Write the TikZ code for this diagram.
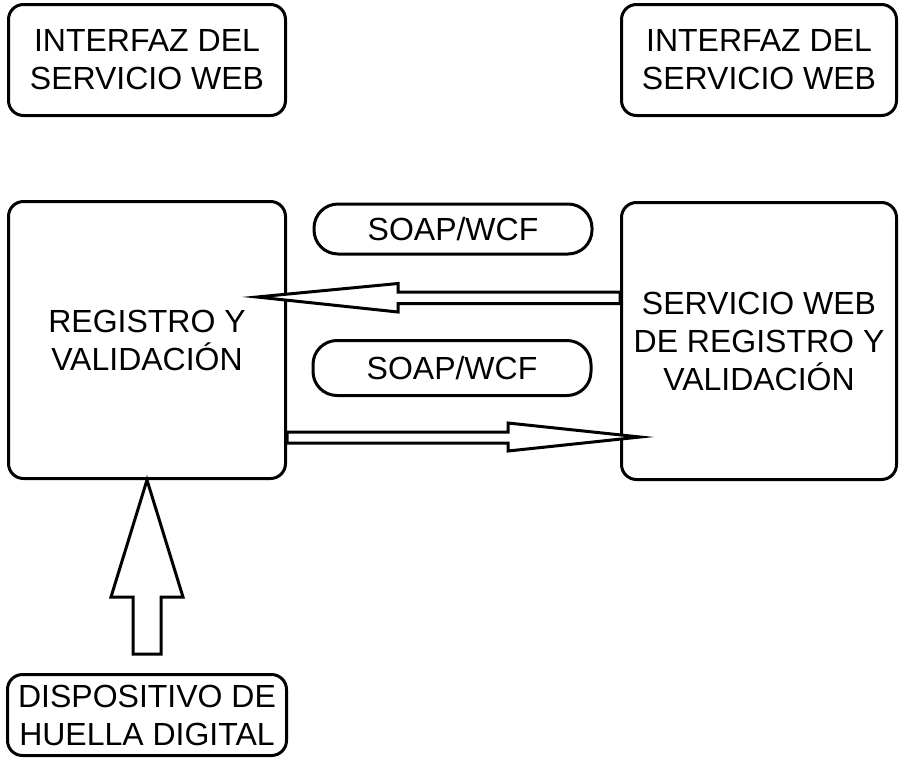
\documentclass[tikz,border=0pt]{standalone}
\usepackage{fontspec}
\setmainfont{Liberation Sans}
\usetikzlibrary{calc}

\tikzset{
  caja/.style={draw,line width=3pt,rounded corners=15pt,align=center,inner sep=0pt},
  etiqueta/.style={caja,rounded corners=24pt},
  flecha/.style={draw,line width=3pt,fill=white,line join=miter},
}

\begin{document}
\begin{tikzpicture}[x=1pt,y=-1pt,font=\fontsize{32}{38}\selectfont]
\path[use as bounding box] (0,0) rectangle (901,761);
% interfaces
\node[caja,minimum width=277pt,minimum height=111pt] (ifzIzq) at (147,60) {INTERFAZ DEL\\SERVICIO WEB};
\node[caja,minimum width=275pt,minimum height=111pt] (ifzDer) at (759,60) {INTERFAZ DEL\\SERVICIO WEB};
% bloques principales
\node[caja,minimum width=277pt,minimum height=277pt] (reg) at (147,340) {REGISTRO Y\\VALIDACI\'ON};
\node[caja,minimum width=275pt,minimum height=277pt] (srv) at (759,341) {SERVICIO WEB\\DE REGISTRO Y\\VALIDACI\'ON};
\node[etiqueta,minimum width=278pt,minimum height=50pt] (soapA) at (453,229) {SOAP/WCF};
\node[etiqueta,minimum width=278pt,minimum height=55pt] (soapB) at (452,368) {SOAP/WCF};
\node[caja,minimum width=279pt,minimum height=81pt] (huella) at (147,715) {DISPOSITIVO DE\\HUELLA DIGITAL};
% flechas huecas
\draw[flecha] ($(srv.west)+(0,-49)$) -- ++(-222,0) -- ++(0,-8.5)
  -- ($(reg.east)+(-30,-43)$) -- ++(141,15) -- ++(0,-8.5) -- ++(222,0) -- cycle;
\draw[flecha] ($(reg.east)+(0,92)$) -- ++(221,0) -- ++(0,-9)
  -- ($(srv.west)+(20,96)$) -- ++(-132,14) -- ++(0,-8) -- ++(-221,0) -- cycle;
\draw[flecha] (reg.south) -- ++(36,117) -- ++(-22,0) -- ++(0,57)
  -- ++(-28,0) -- ++(0,-57) -- ++(-22,0) -- cycle;
\end{tikzpicture}
\end{document}
